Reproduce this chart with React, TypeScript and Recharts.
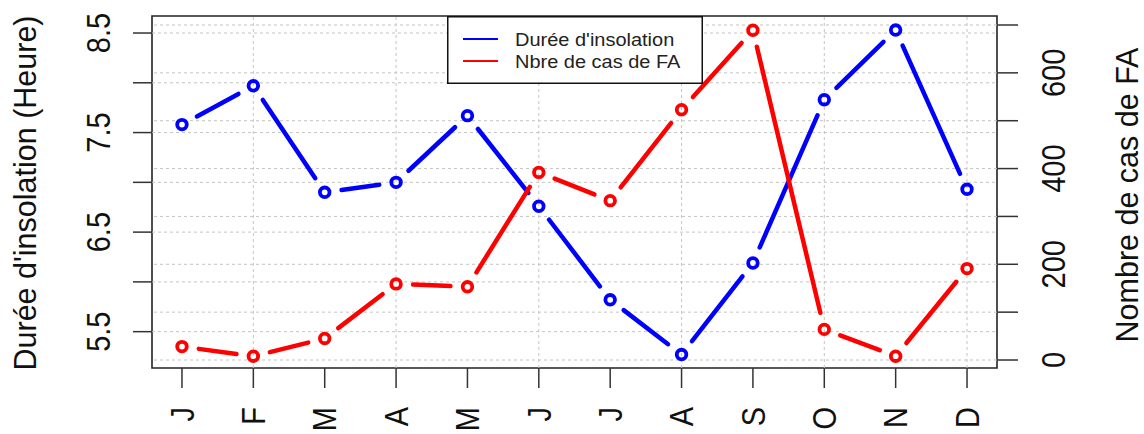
import React from 'react';
import { LineChart, Line, XAxis, YAxis, ReferenceLine, ReferenceArea, Legend } from 'recharts';

// ---------- data ----------
const months = ['J', 'F', 'M', 'A', 'M', 'J', 'J', 'A', 'S', 'O', 'N', 'D'];
const monthIndex = [1, 2, 3, 4, 5, 6, 7, 8, 9, 10, 11, 12];
const sunshine = [7.58, 7.97, 6.9, 7.0, 7.67, 6.76, 5.82, 5.27, 6.19, 7.83, 8.53, 6.93];
const cases = [28, 8, 45, 159, 153, 392, 333, 523, 689, 64, 8, 191];

const leftTicks = [5.5, 6, 6.5, 7, 7.5, 8, 8.5];
const leftTickLabels = ['5.5', '6.5', '7.5', '8.5'];
const rightTicks = [0, 100, 200, 300, 400, 500, 600, 700];
const rightTickLabels = ['0', '200', '400', '600'];
const xGridTicks = [2, 4, 6, 8, 10, 12];

const seriesNames = ["Durée d'insolation", 'Nbre de cas de FA'];
const leftTitle = "Durée d'insolation (Heure)";
const rightTitle = 'Nombre de cas de FA';

const X_DOMAIN: [number, number] = [0.58, 12.42];
const LEFT_DOMAIN: [number, number] = [5.135, 8.671];
const RIGHT_DOMAIN: [number, number] = [-16.7, 718.8];

const data = monthIndex.map((m, i) => ({ m, label: months[i], sun: sunshine[i], cases: cases[i] }));

// ---------- style ----------
const W = 1144;
const H = 434;
const BLUE = '#0000ff';
const RED = '#ff0000';
const FONT = "'Liberation Sans', Arial, Helvetica, sans-serif";
const GRID = '#c4c4c4';
const TICK_FS = 29;
const TICK_SX = 1.12;
const TITLE_FS = 30.5;
const TITLE_SX = 1.05;
const GAP = 17;

type Pt = { x: number; y: number };

function makeDot(color: string, store: Pt[]) {
  return (props: any) => {
    const { cx, cy, index } = props;
    const key = `dot-${color}-${index}`;
    if (cx == null || cy == null || isNaN(cx) || isNaN(cy)) return <g key={key} />;
    const pts = props.points;
    let prev: Pt | undefined;
    if (index > 0) {
      if (Array.isArray(pts) && pts[index - 1] && pts[index - 1].x != null) {
        prev = { x: pts[index - 1].x, y: pts[index - 1].y };
      } else {
        prev = store[index - 1];
      }
    }
    store[index] = { x: cx, y: cy };
    let seg = null;
    if (prev) {
      const dx = cx - prev.x;
      const dy = cy - prev.y;
      const len = Math.hypot(dx, dy);
      if (len > 2 * GAP) {
        const ux = dx / len;
        const uy = dy / len;
        seg = (
          <line
            x1={prev.x + ux * GAP}
            y1={prev.y + uy * GAP}
            x2={cx - ux * GAP}
            y2={cy - uy * GAP}
            stroke={color}
            strokeWidth={4.5}
            strokeLinecap="round"
          />
        );
      }
    }
    return (
      <g key={key}>
        {seg}
        <circle cx={cx} cy={cy} r={4.8} fill="none" stroke={color} strokeWidth={3.8} />
      </g>
    );
  };
}

const blueStore: Pt[] = [];
const redStore: Pt[] = [];
const blueDot = makeDot(BLUE, blueStore);
const redDot = makeDot(RED, redStore);

function LeftTick(props: any) {
  const { x, y, payload } = props;
  const s = String(payload.value);
  if (!leftTickLabels.includes(s)) return <g />;
  return (
    <text
      transform={`translate(${x},${y}) scale(${TICK_SX},1) rotate(-90)`}
      textAnchor="middle"
      fontSize={TICK_FS}
      fontFamily={FONT}
      fill="#111"
    >
      {s}
    </text>
  );
}

function RightTick(props: any) {
  const { x, y, payload } = props;
  const s = String(payload.value);
  if (!rightTickLabels.includes(s)) return <g />;
  return (
    <text
      transform={`translate(${x},${y}) scale(${TICK_SX},1) rotate(-90)`}
      textAnchor="middle"
      fontSize={TICK_FS}
      fontFamily={FONT}
      fill="#111"
    >
      {s}
    </text>
  );
}

function BottomTick(props: any) {
  const { x, y, payload } = props;
  const idx = monthIndex.indexOf(payload.value);
  const s = idx >= 0 ? months[idx] : '';
  return (
    <text
      transform={`translate(${x},${y}) scale(${TICK_SX},1) rotate(-90)`}
      textAnchor="end"
      dy="0.36em"
      fontSize={TICK_FS}
      fontFamily={FONT}
      fill="#111"
    >
      {s}
    </text>
  );
}

function TitleLeft(props: any) {
  const vb = props.viewBox || { x: 0, y: 16, width: 152, height: 352 };
  const x = vb.x + 36;
  const y = vb.y + vb.height / 2 + 1;
  return (
    <text
      transform={`translate(${x},${y}) scale(${TITLE_SX},1) rotate(-90)`}
      textAnchor="middle"
      fontSize={TITLE_FS}
      fontFamily={FONT}
      fill="#111"
    >
      {leftTitle}
    </text>
  );
}

function TitleRight(props: any) {
  const vb = props.viewBox || { x: 997, y: 16, width: 147, height: 352 };
  const x = vb.x + 141;
  const y = vb.y + vb.height / 2 + 3;
  return (
    <text
      transform={`translate(${x},${y}) scale(${TITLE_SX},1) rotate(-90)`}
      textAnchor="middle"
      fontSize={TITLE_FS}
      fontFamily={FONT}
      fill="#111"
    >
      {rightTitle}
    </text>
  );
}

function LegendBox() {
  const colors = [BLUE, RED];
  return (
    <svg width={256} height={68} style={{ display: 'block' }}>
      <rect x={0.75} y={0.75} width={254.5} height={66.5} fill="#fff" stroke="#111" strokeWidth={1.5} />
      {seriesNames.map((name, i) => (
        <g key={name}>
          <line x1={16} x2={51} y1={23 + i * 22} y2={23 + i * 22} stroke={colors[i]} strokeWidth={2} />
          <text
            transform={`translate(68,${29.6 + i * 22}) scale(1.08,1)`}
            fontSize={18.5}
            fontFamily={FONT}
            fill="#222"
          >
            {name}
          </text>
        </g>
      ))}
    </svg>
  );
}

export default function App() {
  return (
    <div style={{ position: 'absolute', left: 0, top: 0, width: W, height: H, background: '#fff' }}>
      <LineChart width={W} height={H} data={data} margin={{ top: 16, right: 0, bottom: 0, left: 0 }}>
        <XAxis
          dataKey="m"
          type="number"
          domain={X_DOMAIN}
          ticks={monthIndex}
          allowDataOverflow
          interval={0}
          height={66}
          tickSize={20}
          tickMargin={19}
          axisLine={false}
          tickLine={{ stroke: '#333', strokeWidth: 1.5 }}
          tick={<BottomTick />}
        />
        <YAxis
          yAxisId="left"
          type="number"
          domain={LEFT_DOMAIN}
          ticks={leftTicks}
          allowDataOverflow
          interval={0}
          width={152}
          tickSize={19}
          tickMargin={23}
          axisLine={false}
          tickLine={{ stroke: '#333', strokeWidth: 1.5 }}
          tick={<LeftTick />}
          label={{ content: (p: any) => <TitleLeft {...p} /> }}
        />
        <YAxis
          yAxisId="right"
          orientation="right"
          type="number"
          domain={RIGHT_DOMAIN}
          ticks={rightTicks}
          allowDataOverflow
          interval={0}
          width={147}
          tickSize={21}
          tickMargin={47}
          axisLine={false}
          tickLine={{ stroke: '#333', strokeWidth: 1.5 }}
          tick={<RightTick />}
          label={{ content: (p: any) => <TitleRight {...p} /> }}
        />
        {leftTicks.map((v) => (
          <ReferenceLine key={`gl-${v}`} yAxisId="left" y={v} stroke={GRID} strokeWidth={1} strokeDasharray="3 3" />
        ))}
        {rightTicks.map((v) => (
          <ReferenceLine key={`gr-${v}`} yAxisId="right" y={v} stroke={GRID} strokeWidth={1} strokeDasharray="3 3" />
        ))}
        {xGridTicks.map((v) => (
          <ReferenceLine key={`gx-${v}`} yAxisId="left" x={v} stroke={GRID} strokeWidth={1} strokeDasharray="3 3" />
        ))}
        <Line
          yAxisId="left"
          dataKey="sun"
          name={seriesNames[0]}
          stroke="none"
          dot={blueDot}
          activeDot={false}
          isAnimationActive={false}
          legendType="none"
        />
        <Line
          yAxisId="right"
          dataKey="cases"
          name={seriesNames[1]}
          stroke="none"
          dot={redDot}
          activeDot={false}
          isAnimationActive={false}
          legendType="none"
        />
        <ReferenceArea
          yAxisId="left"
          x1={X_DOMAIN[0]}
          x2={X_DOMAIN[1]}
          y1={LEFT_DOMAIN[0]}
          y2={LEFT_DOMAIN[1]}
          fill="none"
          stroke="#222"
          strokeWidth={1.6}
          ifOverflow="visible"
        />
        <Legend
          layout="vertical"
          align="center"
          verticalAlign="middle"
          wrapperStyle={{ position: 'absolute', left: 447, top: 16, width: 256, height: 68, margin: 0, padding: 0 }}
          content={() => <LegendBox />}
        />
      </LineChart>
    </div>
  );
}
